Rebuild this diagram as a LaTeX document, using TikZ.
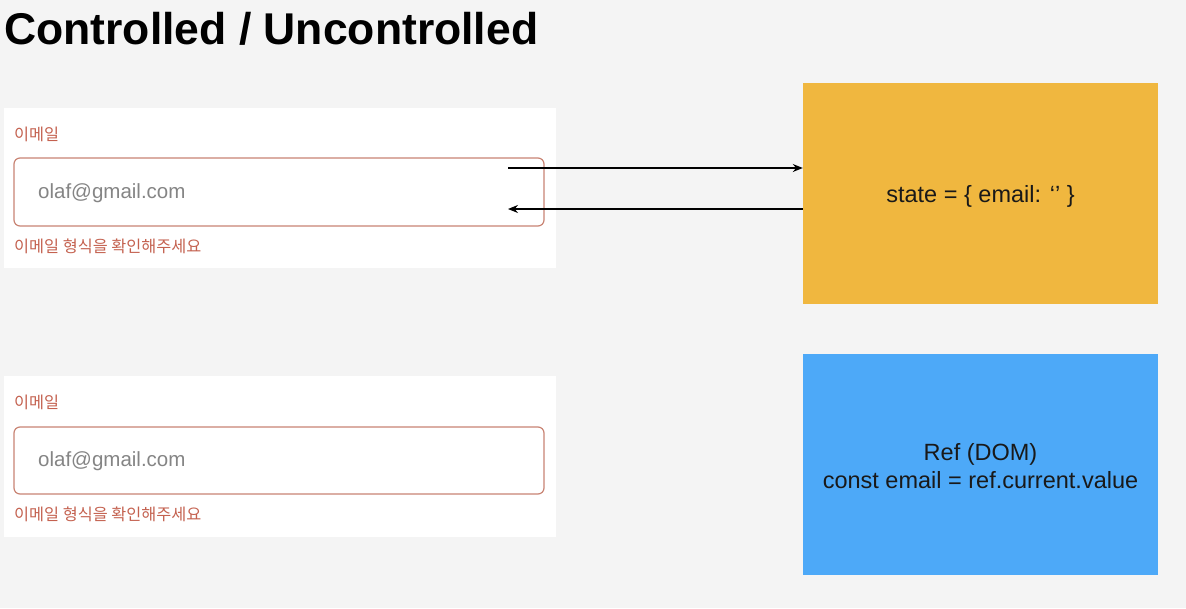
\documentclass[tikz,border=0pt]{standalone}
\usepackage{fontspec}
\setmainfont{Liberation Sans}
\newfontfamily\kr{Noto Sans CJK KR}
\usetikzlibrary{arrows.meta}
\definecolor{bg}{HTML}{F4F4F4}
\definecolor{labelred}{HTML}{C4614F}
\definecolor{boxborder}{HTML}{C98474}
\definecolor{phgray}{HTML}{858585}
\definecolor{stateyellow}{HTML}{F0B73F}
\definecolor{refblue}{HTML}{4DA9F8}
\tikzset{
  panel/.style={fill=white, draw=none},
  inputbox/.style={draw=boxborder, line width=1.2pt, rounded corners=6pt, fill=white},
  krlabel/.style={anchor=west, text=labelred, font=\kr\fontsize{16.3}{19}\selectfont, inner sep=0pt},
  placeholder/.style={anchor=west, text=phgray, font=\fontsize{20.5}{24}\selectfont, inner sep=0pt},
  bigbox/.style={draw=none, inner sep=0pt},
  boxtext/.style={font=\fontsize{23.5}{28}\selectfont, align=center, text=black!90},
  flow/.style={line width=1.2pt, -{Stealth[length=10pt,width=8pt]}},
}
\begin{document}
\begin{tikzpicture}[x=1pt,y=-1pt]
\fill[bg] (0,0) rectangle (1186,608);
\useasboundingbox (0,0) rectangle (1186,608);

\node[anchor=base west, inner sep=0pt, font=\bfseries\fontsize{44.5}{50}\selectfont] (title) at (4,44) {Controlled / Uncontrolled};

% top panel
\fill[panel] (4,108) rectangle (556,268);
\node[krlabel] (lab1) at (14,134) {이메일};
\draw[inputbox] (14,158) rectangle (544,226);
\node[placeholder] (ph1) at (38,193) {olaf@gmail.com};
\node[krlabel] (err1) at (14,246.5) {이메일 형식을 확인해주세요};

% bottom panel
\fill[panel] (4,376) rectangle (556,537);
\node[krlabel] (lab2) at (14,402) {이메일};
\draw[inputbox] (14,427) rectangle (544,494);
\node[placeholder] (ph2) at (38,461) {olaf@gmail.com};
\node[krlabel] (err2) at (14,514.5) {이메일 형식을 확인해주세요};

% state box
\node[bigbox, fill=stateyellow, minimum width=355pt, minimum height=221pt] (state) at (980.5,193.5) {};
\node[boxtext] (statetxt) at (980.5,196) {state = \{ email: ‘’ \}};

% ref box
\node[bigbox, fill=refblue, minimum width=355pt, minimum height=221pt] (ref) at (980.5,464.5) {};
\node[boxtext] (reftxt) at (980.5,466) {Ref (DOM)\\const email = ref.current.value};

% arrows
\coordinate (a1) at (508,168);
\coordinate (b1) at (508,209);
\draw[flow] (a1) -- (a1 -| state.west);
\draw[flow] (b1 -| state.west) -- (b1);
\end{tikzpicture}
\end{document}
